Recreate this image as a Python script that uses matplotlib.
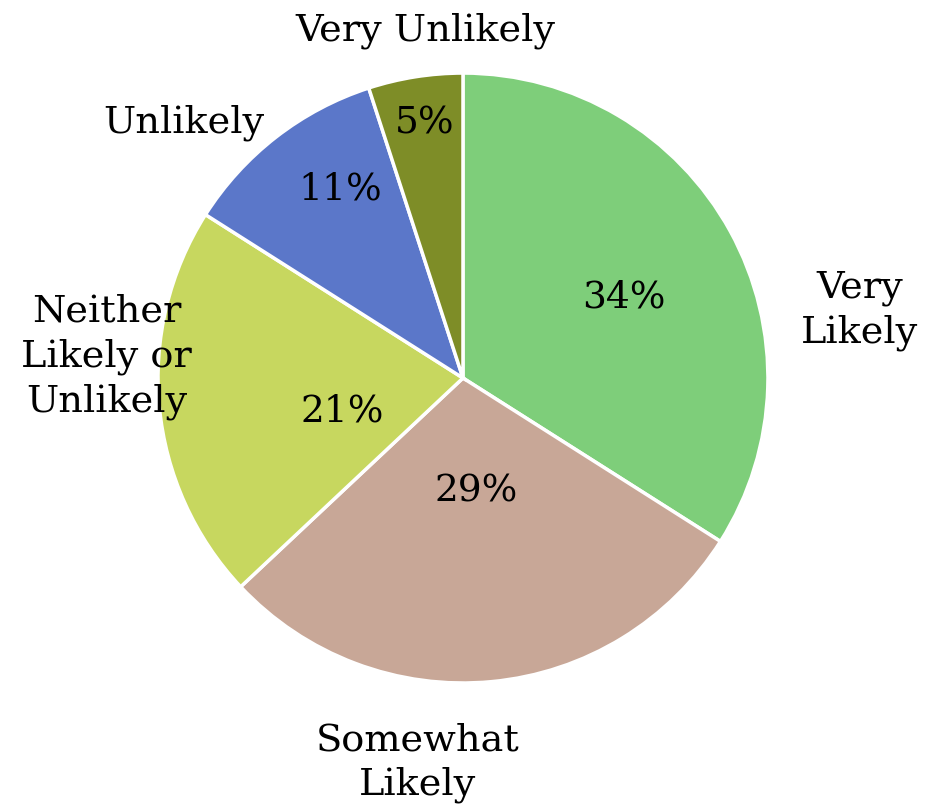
import matplotlib.pyplot as plt
import numpy as np

# survey responses
categories = ["Very\nLikely", "Somewhat\nLikely", "Neither\nLikely or\nUnlikely", "Unlikely", "Very Unlikely"]
shares = [34, 29, 21, 11, 5]
colors = ["#7ece7a", "#c8a797", "#c7d75f", "#5b77c9", "#7e8d27"]

# where the text sits, as (radius, angle in degrees) around the pie centre
pct_pos = [(0.59, 26.6), (0.376, -83.5), (0.41, 195.7), (0.737, 123.0), (0.845, 98.5)]
name_pos = [(1.32, 9.7), (1.27, -96.7), (1.17, 176.6), (1.24, 137.6), (1.147, 96.2)]

plt.rcParams["font.family"] = ["DejaVu Serif"]

fig = plt.figure(figsize=(9.46, 8.10), dpi=100)
ax = fig.add_axes([0.167, 0.1568, 0.6448, 0.753])

wedges, _ = ax.pie(shares, colors=colors, startangle=90, counterclock=False,
                   radius=1.0, wedgeprops=dict(edgecolor="white", linewidth=2.5))

for v, (r, a) in zip(shares, pct_pos):
    t = np.deg2rad(a)
    ax.text(r * np.cos(t), r * np.sin(t), f"{v}%", ha="center", va="center",
            fontsize=27, color="black")

for name, (r, a) in zip(categories, name_pos):
    t = np.deg2rad(a)
    ax.text(r * np.cos(t), r * np.sin(t), name, ha="center", va="center",
            fontsize=27.5, color="black", linespacing=1.3)

ax.set_xlim(-1, 1)
ax.set_ylim(-1, 1)
ax.set_aspect("equal")
ax.axis("off")

plt.savefig("out.png", dpi=100)
